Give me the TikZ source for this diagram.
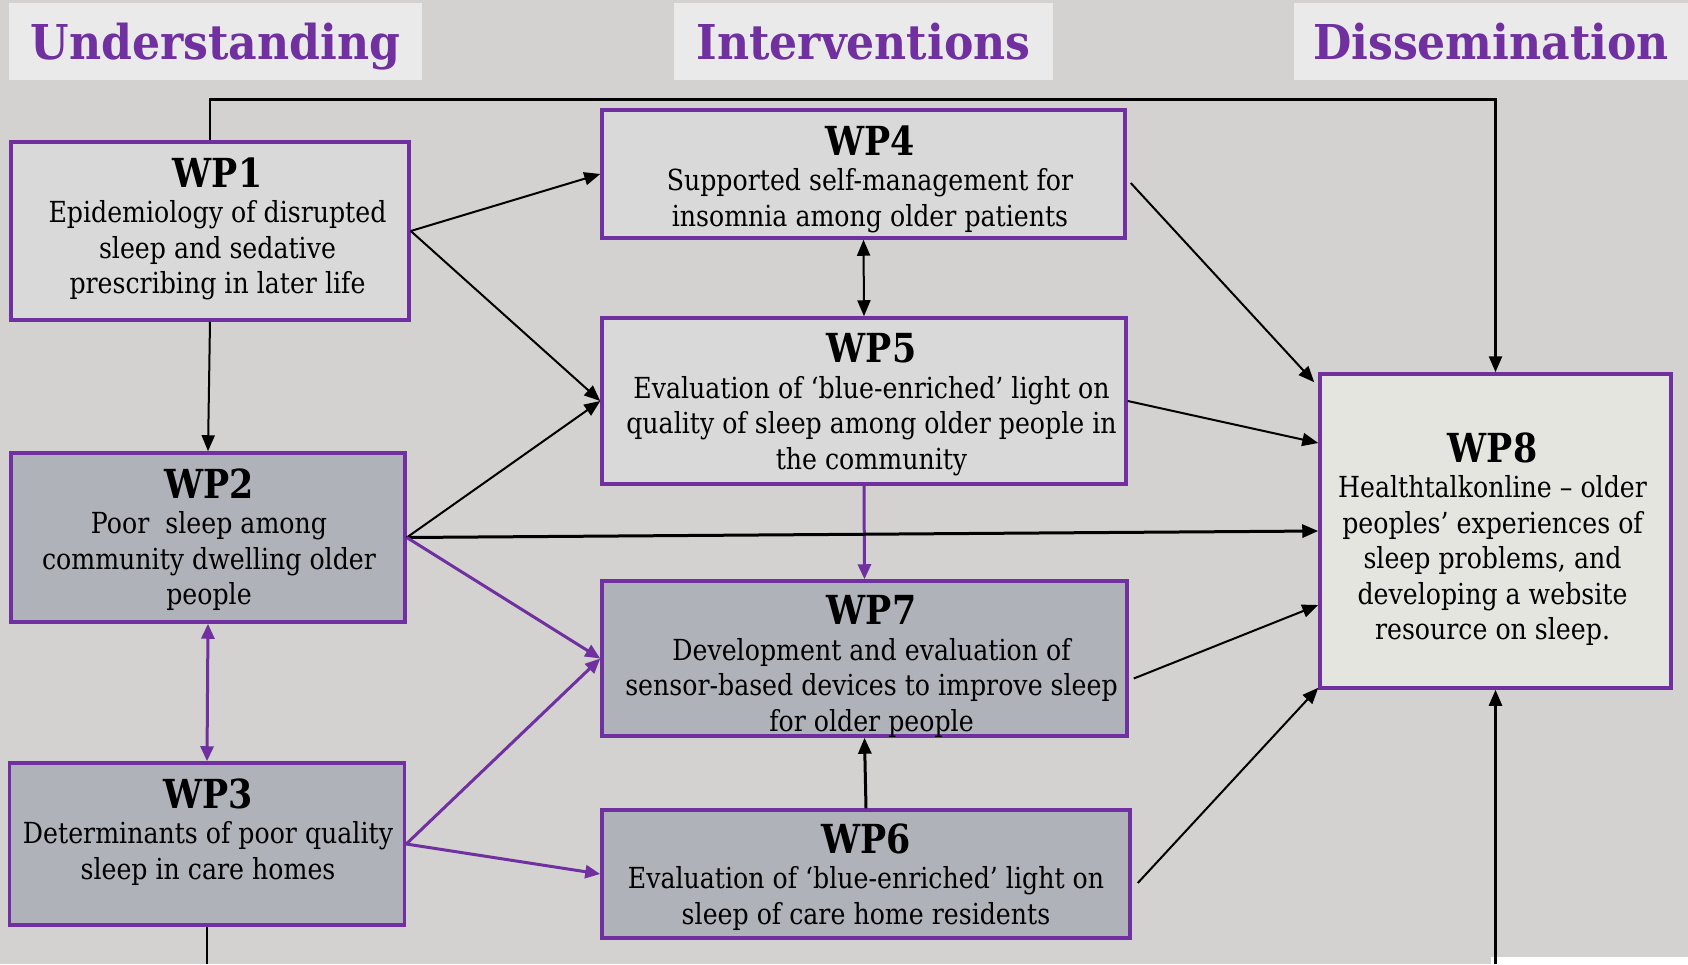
\documentclass[tikz,border=0pt]{standalone}
\usepackage{fontspec}
\setmainfont[FakeStretch=0.87]{DejaVu Serif}
\newfontfamily\hdrfont[FakeStretch=0.92]{DejaVu Serif}
\usetikzlibrary{arrows.meta,calc}
\definecolor{bg}{HTML}{D3D2D0}
\definecolor{hdr}{HTML}{EAEAEA}
\definecolor{purp}{HTML}{7030A0}
\definecolor{lightbox}{HTML}{D9D9D9}
\definecolor{darkbox}{HTML}{B0B2BA}
\definecolor{wpeight}{HTML}{E3E5DE}
\newcommand\wpt[1]{{\fontsize{40}{35.5}\selectfont\bfseries #1}}
\tikzset{
  wpbox/.style={draw=purp, line width=3.5pt, inner sep=0pt, rectangle},
  lbox/.style={wpbox, fill=lightbox},
  dbox/.style={wpbox, fill=darkbox},
  ebox/.style={wpbox, fill=wpeight},
  wptext/.style={align=center, inner sep=0pt, anchor=north, font=\fontsize{29}{35.5}\selectfont},
  hdrbox/.style={fill=hdr, inner sep=0pt, text height=35pt, text depth=0pt,
    font=\hdrfont\bfseries\fontsize{48}{58}\selectfont, text=purp},
  tip/.style={-{Triangle[length=16pt,width=13pt]}},
  conn/.style={line width=2pt, draw=black, tip},
  pconn/.style={line width=3pt, draw=purp, -{Triangle[length=15pt,width=13pt]}},
  both/.style={{Triangle[length=16pt,width=13pt]}-{Triangle[length=16pt,width=13pt]}},
  pboth/.style={{Triangle[length=15pt,width=13pt]}-{Triangle[length=15pt,width=13pt]}},
}
\begin{document}
\begin{tikzpicture}[x=1pt,y=-1pt]
\useasboundingbox (0,0) rectangle (1688,964);
\fill[bg] (0,0) rectangle (1688,964);
\fill[white] (1491,957) rectangle (1688,964);

% headers
\node[hdrbox, minimum width=413pt, minimum height=77pt] (h1) at (215.3,41.5) {Understanding};
\node[hdrbox, minimum width=379pt, minimum height=77pt] (h2) at (863.5,41.5) {Interventions};
\node[hdrbox, minimum width=394pt, minimum height=77pt] (h3) at (1491,41.5) {Dissemination};

% boxes
\node[lbox, minimum width=398pt, minimum height=178pt] (wp1) at (210,231) {};
\node[dbox, minimum width=394pt, minimum height=169pt] (wp2) at (208,537.5) {};
\node[dbox, minimum width=395pt, minimum height=162pt] (wp3) at (207,844) {};
\node[lbox, minimum width=523pt, minimum height=128pt] (wp4) at (863.5,174) {};
\node[lbox, minimum width=524pt, minimum height=166pt] (wp5) at (864,401) {};
\node[dbox, minimum width=525pt, minimum height=155pt] (wp7) at (864.5,658.5) {};
\node[dbox, minimum width=528pt, minimum height=128pt] (wp6) at (866,874) {};
\node[ebox, minimum width=351pt, minimum height=314pt] (wp8) at (1495.5,531) {};

% free ends
\coordinate (b3) at (207,964);
\coordinate (b8) at (1495.5,964);

% connectors
\draw[line width=2.5pt, tip] (wp1.north) -- ++(0,-41) -| (wp8.north);
\draw[conn] (wp1.east) -- (wp4.west);
\draw[conn] (wp1.east) -- (wp5.west);
\draw[conn] (wp1.south) -- (wp2.north);
\draw[line width=2pt, both] (wp4.south) -- (wp5.north);
\draw[conn] ($(wp4.east)+(4,9)$) -- ($(wp8.north west)+(-4,10)$);
\draw[conn] (wp5.east) -- ($(wp8.west)+(0,-88)$);
\draw[pconn] (wp5.south) -- (wp7.north);
\draw[conn] (wp2.east) -- (wp5.west);
\draw[conn, line width=3pt] (wp2.east) -- (wp8.west);
\draw[pconn] (wp2.east) -- (wp7.west);
\draw[line width=3pt, draw=purp, pboth] (wp2.south) -- (wp3.north);
\draw[pconn] (wp3.east) -- (wp7.west);
\draw[pconn] (wp3.east) -- (wp6.west);
\draw[conn, line width=3pt] (wp6.north) -- (wp7.south);
\draw[conn] ($(wp7.east)+(5,20)$) -- ($(wp8.west)+(0,74)$);
\draw[conn] ($(wp6.east)+(6,9)$) -- ($(wp8.south west)+(0,-2)$);
\draw[conn, line width=2.5pt] (b8) -- (wp8.south);
\draw[line width=2pt] (wp3.south) -- (b3);

% texts
\node[wptext] (wp1t) at ($(wp1.north)+(7.5,17)$) {\wpt{WP1}\\Epidemiology of disrupted\\sleep and sedative\\prescribing in later life};
\node[wptext] (wp2t) at ($(wp2.north)+(1,17)$) {\wpt{WP2}\\Poor\ \ sleep among\\community dwelling older\\people};
\node[wptext] (wp3t) at ($(wp3.north)+(1,17)$) {\wpt{WP3}\\Determinants of poor quality\\sleep in care homes};
\node[wptext] (wp4t) at ($(wp4.north)+(6.5,17)$) {\wpt{WP4}\\Supported self-management for\\insomnia among older patients};
\node[wptext] (wp5t) at ($(wp5.north)+(7.5,17)$) {\wpt{WP5}\\Evaluation of ‘blue-enriched’ light on\\quality of sleep among older people in\\the community};
\node[wptext] (wp7t) at ($(wp7.north)+(7,16)$) {\wpt{WP7}\\Development and evaluation of\\sensor-based devices to improve sleep\\for older people};
\node[wptext] (wp6t) at ($(wp6.north)+(0,15)$) {\wpt{WP6}\\Evaluation of ‘blue-enriched’ light on\\sleep of care home residents};
\node[wptext] (wp8t) at ($(wp8.north)+(-3,60)$) {\wpt{WP8}\\Healthtalkonline – older\\peoples’ experiences of\\sleep problems, and\\developing a website\\resource on sleep.};
\end{tikzpicture}
\end{document}
